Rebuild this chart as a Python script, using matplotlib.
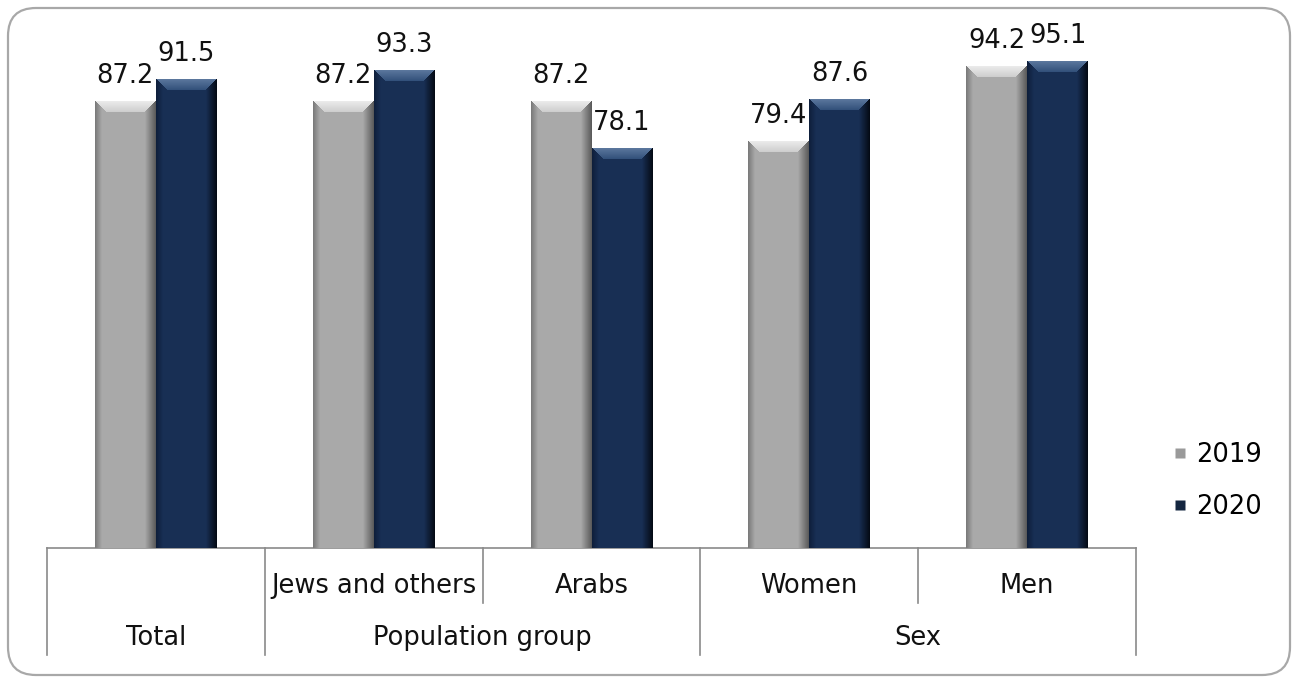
import numpy as np
import matplotlib
matplotlib.use('Agg')
import matplotlib.pyplot as plt
from matplotlib.patches import FancyBboxPatch
from matplotlib.lines import Line2D
from matplotlib.transforms import IdentityTransform, blended_transform_factory

plt.rcParams['font.family'] = ['DejaVu Sans']

# Anteile je Gruppe (%)
categories = ['Total', 'Jews and others', 'Arabs', 'Women', 'Men']
sub_labels = ['', 'Jews and others', 'Arabs', 'Women', 'Men']
group_labels = ['Total', 'Population group', 'Sex']
group_spans = [(0, 0), (1, 2), (3, 4)]
years = ['2019', '2020']
values_2019 = [87.2, 87.2, 87.2, 79.4, 94.2]
values_2020 = [91.5, 93.3, 78.1, 87.6, 95.1]

W, H, DPI = 1297, 682, 100
FS = 18.5
fig = plt.figure(figsize=(W / DPI, H / DPI), dpi=DPI)

# abgerundeter Rahmen um das ganze Bild
frame = FancyBboxPatch((8, 7), 1282, 667, boxstyle='round,pad=0,rounding_size=28',
                       transform=IdentityTransform(), facecolor='none',
                       edgecolor='#a8a8a8', linewidth=1.6, zorder=-1)
fig.patches.append(frame)

ax = fig.add_axes([47 / W, (H - 548) / H, 1089 / W, 511.5 / H])
ax.patch.set_alpha(0)

x = np.arange(len(categories))
bw = 0.28
ymax = 100
px_x = 1089 / len(categories)   # Pixel pro Kategorie
px_y = 511.5 / ymax             # Pixel pro Prozentpunkt

styles = {
    '2019': dict(body=(169, 169, 169), left=(120, 120, 120), right=(88, 88, 88),
                 top=(205, 205, 205), hi=(236, 236, 236)),
    '2020': dict(body=(24, 47, 84), left=(14, 30, 58), right=(4, 9, 18),
                 top=(50, 80, 122), hi=(92, 120, 158)),
}


def bevel_image(h, st):
    # Farbbild fuer einen Balken mit abgeschraegter Oberkante
    nx = int(round(bw * px_x))
    ny = max(int(round(h * px_y)), 2)
    i = np.arange(nx) + 0.5
    j = np.arange(ny) + 0.5
    I, J = np.meshgrid(i, j)
    img = np.zeros((ny, nx, 3))
    img[:] = st['body']
    body = np.array(st['body'], float)
    # linke Kante
    lb = 7
    t = np.clip(I / lb, 0, 1)[..., None]
    left = np.array(st['left'], float) * (1 - t) + body * t
    img = np.where(I[..., None] < lb, left, img)
    # rechte Kante
    rb = 11
    t2 = np.clip((nx - I) / rb, 0, 1)[..., None]
    right = np.array(st['right'], float) * (1 - t2) + body * t2
    img = np.where((nx - I)[..., None] < rb, right, img)
    # obere Schraege
    bev = 11
    dx = np.minimum(I, nx - I)
    topmask = (J < bev) & (J < dx)
    tt = np.clip(J / bev, 0, 1)[..., None]
    top = np.array(st['top'], float) * tt + np.array(st['hi'], float) * (1 - tt)
    img = np.where(topmask[..., None], top, img)
    return img / 255.0


for off, yr, vals in [(-bw / 2, '2019', values_2019), (bw / 2, '2020', values_2020)]:
    bars = ax.bar(x + off, vals, bw, color=np.array(styles[yr]['body']) / 255,
                  linewidth=0, zorder=2)
    for bar, v in zip(bars, vals):
        x0 = bar.get_x()
        ax.imshow(bevel_image(v, styles[yr]), extent=(x0, x0 + bw, 0, v),
                  aspect='auto', interpolation='nearest', zorder=3)
        ax.annotate(f'{v:.1f}', (x0 + bw / 2, v), xytext=(0, 9),
                    textcoords='offset points', ha='center', va='bottom',
                    fontsize=FS, color='#111111')

ax.set_xlim(-0.5, len(categories) - 0.5)
ax.set_ylim(0, ymax)
ax.set_xticks([])
ax.set_yticks([])
for s in ['top', 'right', 'left']:
    ax.spines[s].set_visible(False)
ax.spines['bottom'].set_color('#8a8a8a')
ax.spines['bottom'].set_linewidth(1.2)

# Kategorienachse mit zwei Ebenen
tr = blended_transform_factory(ax.transData, ax.transAxes)
outer = -107 / 511.5
inner = -55 / 511.5
bounds = [-0.5] + [e + 0.5 for _, e in group_spans]
for b in bounds:
    ax.plot([b, b], [0, outer], transform=tr, color='#8a8a8a', lw=1.2, clip_on=False)
for s, e in group_spans:
    for k in range(s, e):
        ax.plot([k + 0.5, k + 0.5], [0, inner], transform=tr, color='#8a8a8a',
                lw=1.2, clip_on=False)
for k, lab in enumerate(sub_labels):
    if lab:
        ax.text(k, -38 / 511.5, lab, transform=tr, ha='center', va='center',
                fontsize=FS, color='#111111')
for (s, e), lab in zip(group_spans, group_labels):
    ax.text((s + e) / 2, -90 / 511.5, lab, transform=tr, ha='center', va='center',
            fontsize=FS, color='#111111')

# Legende
handles = [Line2D([], [], marker='s', linestyle='none', markersize=6.5,
                  markerfacecolor=c, markeredgecolor='none')
           for c in ['#9a9a9a', '#142640']]
fig.legend(handles, years, loc='center left', bbox_to_anchor=(1174 / W, 1 - 481 / H),
           frameon=False, fontsize=FS, handlelength=0.5, handletextpad=0.35,
           labelspacing=1.05, borderpad=0, borderaxespad=0)

fig.savefig('out.png', dpi=DPI, facecolor='white')
